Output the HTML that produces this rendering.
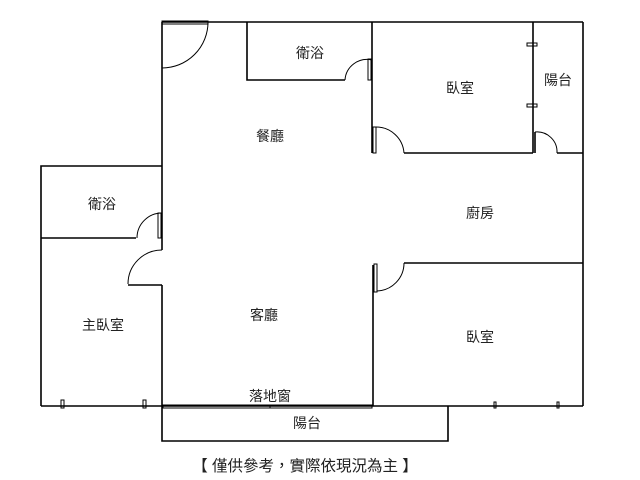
<!DOCTYPE html>
<html><head><meta charset="utf-8"><style>
body{margin:0;background:#fff;}
svg{display:block;}
text{font-family:"Liberation Sans","Noto Sans CJK TC",sans-serif;font-size:14px;fill:#222;text-anchor:middle;}
</style></head><body>
<svg width="640" height="480" viewBox="0 0 640 480" xmlns="http://www.w3.org/2000/svg">
<g fill="none" stroke="#000" stroke-width="1.6">
<line x1="162" y1="22" x2="583" y2="22"/>
<rect x="162" y="21" width="46" height="3" stroke-width="1"/>
<path d="M208 22 A46 46 0 0 1 162 68" stroke-width="1"/>
<line x1="162" y1="22" x2="162" y2="250"/>
<line x1="162" y1="285" x2="162" y2="406"/>
<line x1="128" y1="285" x2="162" y2="285"/>
<path d="M162 250 A34 34 0 0 0 128 284" stroke-width="1"/>
<polyline points="162,166 41,166 41,406"/>
<line x1="41" y1="238" x2="136" y2="238"/>
<path d="M162 213 A25 25 0 0 0 137 238" stroke-width="1"/>
<rect x="158" y="213" width="3" height="25" stroke-width="1"/>
<line x1="41" y1="406" x2="583" y2="406"/>
<rect x="61" y="400" width="3" height="8" stroke-width="1"/>
<rect x="143" y="400" width="3" height="8" stroke-width="1"/>
<rect x="494" y="402" width="2" height="6" stroke-width="1"/>
<rect x="557" y="402" width="2" height="6" stroke-width="1"/>
<rect x="163" y="405" width="209" height="3" stroke-width="1"/>
<line x1="270" y1="405" x2="270" y2="408" stroke-width="1"/>
<polyline points="162,406 162,441 448,441 448,406"/>
<polyline points="247,22 247,80 345,80"/>
<path d="M372 60 A22 22 0 0 0 345 80" stroke-width="1"/>
<rect x="368" y="59" width="3" height="21" stroke-width="1"/>
<line x1="372" y1="22" x2="372" y2="153"/>
<rect x="373" y="127" width="3" height="26" stroke-width="1"/>
<path d="M376 127 A28 28 0 0 1 404 153" stroke-width="1"/>
<line x1="404" y1="153" x2="533" y2="153"/>
<line x1="533" y1="22" x2="533" y2="153"/>
<rect x="527" y="43" width="10" height="3" stroke-width="1"/>
<rect x="527" y="104" width="10" height="3" stroke-width="1"/>
<path d="M535 132 A20 20 0 0 1 557 153" stroke-width="1"/>
<line x1="535" y1="132" x2="535" y2="153"/>
<line x1="557" y1="153" x2="583" y2="153"/>
<line x1="583" y1="22" x2="583" y2="406"/>
<line x1="373" y1="265" x2="373" y2="406"/>
<rect x="374" y="264" width="3" height="28" stroke-width="1"/>
<path d="M404 263 A28 28 0 0 1 377 291" stroke-width="1"/>
<line x1="404" y1="263" x2="583" y2="263"/>
</g>
<text x="310" y="58">衛浴</text>
<text x="460" y="93">臥室</text>
<text x="558" y="85">陽台</text>
<text x="270" y="141">餐廳</text>
<text x="480" y="218">廚房</text>
<text x="102" y="209">衛浴</text>
<text x="103" y="330">主臥室</text>
<text x="264" y="320">客廳</text>
<text x="480" y="342">臥室</text>
<text x="270" y="401">落地窗</text>
<text x="307" y="428">陽台</text>
<text x="305" y="471" style="font-size:15.5px">【 僅供參考，實際依現況為主 】</text>
</svg>
</body></html>
